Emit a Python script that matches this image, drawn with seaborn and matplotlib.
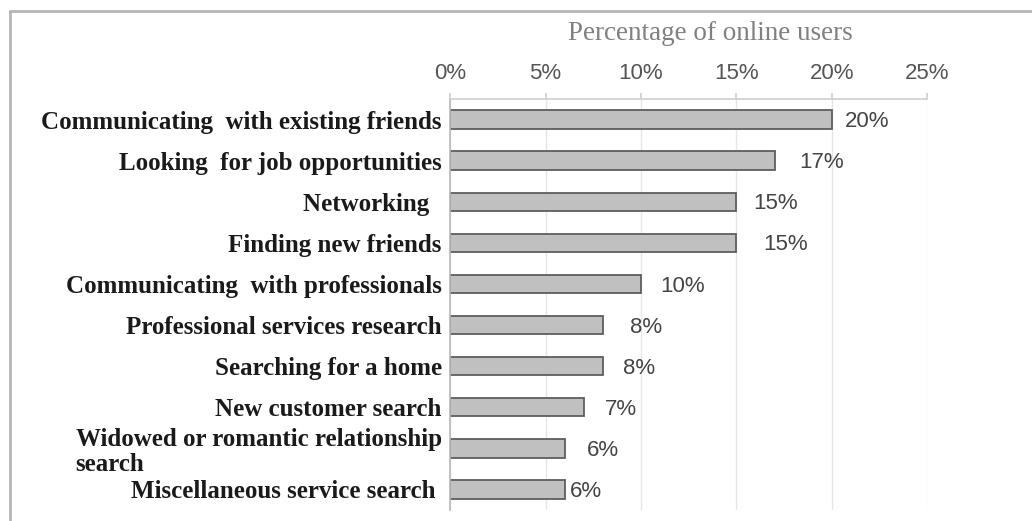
import matplotlib
matplotlib.use("Agg")
import matplotlib.pyplot as plt
import seaborn as sns
import pandas as pd
from matplotlib.lines import Line2D

categories = [
    "Communicating  with existing friends",
    "Looking  for job opportunities",
    "Networking  ",
    "Finding new friends",
    "Communicating  with professionals",
    "Professional services research",
    "Searching for a home",
    "New customer search",
    "Widowed or romantic relationship\nsearch",
    "Miscellaneous service search ",
]
values = [20, 17, 15, 15, 10, 8, 8, 7, 6, 6]
value_labels = ["20%", "17%", "15%", "15%", "10%", "8%", "8%", "7%", "6%", "6%"]
x_ticks = [0, 5, 10, 15, 20, 25]
x_tick_labels = ["0%", "5%", "10%", "15%", "20%", "25%"]
title = "Percentage of online users"

df = pd.DataFrame({"category": categories, "value": values})

sns.set_theme(style="white")
plt.rcParams["font.family"] = ["Liberation Sans", "DejaVu Sans"]

fig = plt.figure(figsize=(10.32, 5.21), dpi=100)
ax = fig.add_axes([450 / 1032, 1 - 510 / 521, (927.5 - 450) / 1032, 411 / 521])

sns.barplot(data=df, x="value", y="category", orient="h", ax=ax,
            color="#c0c0c0", edgecolor="#5e5e5e", linewidth=1.3,
            width=0.45, saturation=1)

ax.set_xlim(0, 25)
ax.set_ylim(9.5, -0.5)
ax.set_xticks(x_ticks)
ax.set_xticklabels(x_tick_labels, fontsize=16, color="#555555")
ax.xaxis.tick_top()
ax.xaxis.set_label_position("top")
ax.tick_params(axis="x", which="both", top=True, bottom=False, length=4,
               color="#d0d0d0", pad=7)
ax.set_xlabel(title, family="Liberation Serif", fontsize=19.5,
              color="#808080", va="center")
ax.xaxis.set_label_coords(0.545, (510 - 34) / 411)
ax.set_ylabel("")
ax.grid(axis="x", color="#e6e6e6", linewidth=1)
ax.set_axisbelow(True)

for s in ["right", "bottom"]:
    ax.spines[s].set_visible(False)
ax.spines["top"].set_color("#d0d0d0")
ax.spines["left"].set_color("#b8b8b8")
ax.spines["left"].set_linewidth(1.2)

ax.tick_params(axis="y", length=0, pad=6)
for lbl in ax.get_yticklabels():
    lbl.set_family("Liberation Serif")
    lbl.set_fontweight("bold")
    lbl.set_fontsize(18)
    lbl.set_color("#1a1a1a")
    lbl.set_multialignment("left")
    lbl.set_linespacing(1.1)

label_offsets = [0.7, 1.3, 0.9, 1.4, 1.0, 1.4, 1.05, 1.1, 1.15, 0.3]
for i, (v, t) in enumerate(zip(values, value_labels)):
    ax.text(v + label_offsets[i], i + 0.05, t, va="center", ha="left",
            fontsize=16, color="#444444")

fig.add_artist(Line2D([10 / 1032, 10 / 1032], [0, 1 - 11 / 521],
                      transform=fig.transFigure, color="#b5b5b5", linewidth=2))
fig.add_artist(Line2D([10 / 1032, 1], [1 - 11 / 521, 1 - 11 / 521],
                      transform=fig.transFigure, color="#b5b5b5", linewidth=2))

fig.savefig("out.png", dpi=100)
